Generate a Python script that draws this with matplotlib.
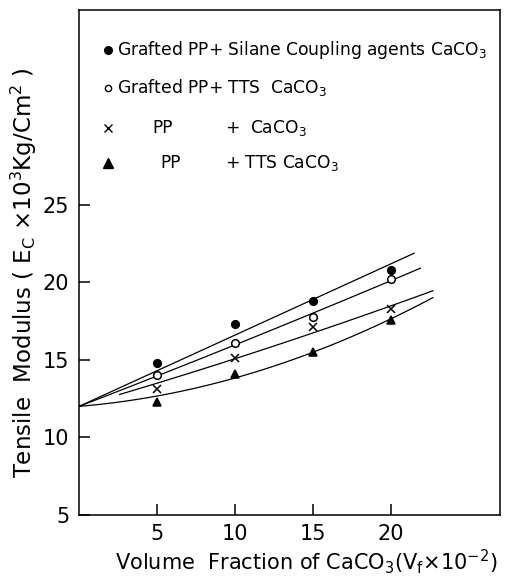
import numpy as np
import matplotlib.pyplot as plt

plt.rcParams['mathtext.fontset'] = 'dejavusans'

vf = [0, 5, 10, 15, 20]
silane = [12.0, 14.8, 17.3, 18.8, 20.8]
tts_graft = [12.0, 14.0, 16.1, 17.8, 20.2]
pp_caco3 = [12.0, 13.1, 15.1, 17.1, 18.3]
pp_tts = [12.0, 12.3, 14.1, 15.5, 17.6]

series = [silane, tts_graft, pp_caco3, pp_tts]
markers = ['o', 'o', 'x', '^']
fills = ['k', 'white', 'k', 'k']
starts = [0, 0, 2.6, 0]
ends = [21.5, 21.9, 22.7, 22.7]

#----------------
fig = plt.figure(figsize=(5.07, 5.81), dpi=100)
ax = fig.add_axes([0.156, 0.114, 0.83, 0.869])

for y, m, fc, xs0, xe in zip(series, markers, fills, starts, ends):
	# smooth curve through the points, pinned at the common start value
	x = np.array(vf[1:], float)
	d = np.array(y[1:]) - y[0]
	A = np.vstack([x, x**2]).T
	a, b = np.linalg.lstsq(A, d, rcond=None)[0]
	b = max(b, 0.0)
	if b == 0.0:
		a = np.sum(x*d) / np.sum(x*x)
	xs = np.linspace(xs0, xe, 100)
	ax.plot(xs, y[0] + a*xs + b*xs**2, color='k', lw=0.9)
	ax.plot(vf[1:], y[1:], m, color='k', mfc=fc, ms=5.5, mew=1.1)

ax.set_xlim(0, 27)
ax.set_ylim(5, 37.6)
ax.set_xticks([5, 10, 15, 20])
ax.set_yticks([5, 10, 15, 20, 25])
ax.tick_params(direction='in', length=8, width=1.1, labelsize=15, pad=7)
for s in ax.spines.values():
	s.set_linewidth(1.1)

ax.set_xlabel(r'Volume  Fraction of CaCO$_3$(V$_\mathrm{f}$$\times$10$^{-2}$)', fontsize=15, labelpad=2)
ax.xaxis.set_label_coords(0.54, -0.065)
ax.set_ylabel(r'Tensile  Modulus ( E$_\mathrm{C}$ $\times$10$^3$Kg/Cm$^2$ )', fontsize=16.5, labelpad=0)
ax.yaxis.set_label_coords(-0.095, 0.48)

# legend written as text, like the original
tx = ax.transAxes
def fx(p): return (p - 79) / 421.0
def fy(p): return (515 - p) / 505.0
rows = [50, 88, 128, 163]
ax.plot([fx(108)], [fy(rows[0])], 'o', color='k', ms=5.5, transform=tx, clip_on=False)
ax.plot([fx(108)], [fy(rows[1])], 'o', color='k', mfc='white', ms=4.5, transform=tx, clip_on=False)
ax.plot([fx(108)], [fy(rows[2])], 'x', color='k', ms=5.5, transform=tx, clip_on=False)
ax.plot([fx(108)], [fy(rows[3])], '^', color='k', ms=6.5, transform=tx, clip_on=False)
kw = dict(transform=tx, fontsize=12.3, va='center', ha='left')
ax.text(fx(117), fy(rows[0]), r'Grafted PP+ Silane Coupling agents CaCO$_3$', **kw)
ax.text(fx(117), fy(rows[1]), r'Grafted PP+ TTS  CaCO$_3$', **kw)
ax.text(fx(152), fy(rows[2]), 'PP', **kw)
ax.text(fx(225), fy(rows[2]), '+', **kw)
ax.text(fx(250), fy(rows[2]), r'CaCO$_3$', **kw)
ax.text(fx(160), fy(rows[3]), 'PP', **kw)
ax.text(fx(225), fy(rows[3]), r'+ TTS CaCO$_3$', **kw)

fig.savefig('out.png', dpi=100)
